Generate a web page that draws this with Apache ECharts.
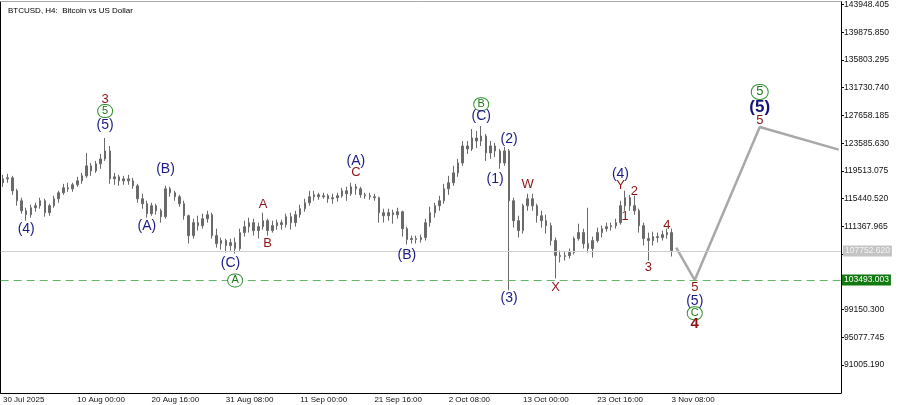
<!DOCTYPE html>
<html>
<head>
<meta charset="utf-8">
<script src="https://cdn.jsdelivr.net/npm/echarts@6/dist/echarts.min.js"></script>
<style>
  html, body { margin: 0; padding: 0; background: #fff; }
  #chart { width: 900px; height: 405px; }
</style>
</head>
<body>
<div id="chart"></div>
<script>
// BTCUSD H4, drawn with one candle per 16 h starting 30 Jul 2025 08:00
// each bar: [open, close, low, high]
const bars = [
  [117770,118350,117180,118940],[118350,118500,117770,119090],[118500,116600,116010,118790],[116600,115140,114410,116890],
  [115140,113670,113240,115580],[113670,113090,112210,114110],[113090,114110,112650,114550],[114110,114410,113530,114840],
  [114410,115140,113970,115580],[115140,113380,112800,115430],[113380,114410,112940,114700],[114410,115430,114110,115870],
  [115430,116310,114840,116600],[116310,117040,116010,117620],[117040,116890,116450,117770],[116890,117480,116450,117770],
  [117480,118060,117180,118650],[118060,118790,117620,119230],[118790,120260,118500,122160],[120260,119520,118790,120690],
  [119520,120550,119230,120990],[120550,121280,119820,122010],[121280,122450,120990,124350],[122450,118350,117620,123180],
  [118350,118650,117480,119230],[118650,118060,117330,118940],[118060,118350,117480,118790],[118350,118060,117480,118940],
  [118060,117330,116890,118500],[117330,115430,114840,117620],[115430,114700,113970,116160],[114700,113240,112650,115140],
  [113240,114410,112940,114840],[114410,113670,113090,114700],[113670,112800,111920,113970],[112800,116890,112500,117330],
  [116890,116310,115720,117180],[116310,115720,115140,116600],[115720,114700,114260,116010],[114700,112940,112360,115140],
  [112940,110020,108850,113090],[110020,111920,109580,112500],[111920,111480,110750,112940],[111480,112500,111040,113240],
  [112500,113090,111920,113670],[113090,110020,109580,113380],[110020,108850,108260,111040],[108850,109290,107970,109730],
  [109290,108560,107530,109580],[108560,108990,107820,109580],[108990,108120,107390,109730],[108120,110460,107820,111040],
  [110460,111330,109870,112210],[111330,111920,110460,112650],[111920,110750,110020,112500],[110750,111330,109580,111920],
  [111330,112210,110900,113380],[112210,110750,110020,112500],[110750,111480,110460,112210],[111480,111920,110900,112360],
  [111920,111630,110900,112360],[111630,112800,111190,113240],[112800,111920,110900,113380],[111920,113090,111330,113670],
  [113090,113970,112650,114550],[113970,114840,113530,115430],[114840,115720,114410,116600],[115720,116010,115140,116600],
  [116010,115720,115280,116310],[115720,115870,115430,116310],[115870,115430,114840,116160],[115430,115580,114700,116160],
  [115580,115870,114990,116310],[115870,116600,115580,117040],[116600,116160,115140,117180],[116160,117180,115870,117770],
  [117180,116890,116010,117620],[116890,116010,115580,117180],[116010,115870,115430,116310],[115870,115720,115280,116310],
  [115720,115580,115140,116160],[115580,113380,111920,115720],[113380,112940,111920,113970],[112940,113380,112210,113970],
  [113380,113090,111770,113820],[113090,113530,112500,114110],[113530,111040,109870,113670],[111040,109430,108700,111330],
  [109430,109580,108850,110020],[109580,109430,108850,110020],[109430,109730,108990,110160],[109730,111920,109290,112500],
  [111920,113380,111330,114260],[113380,114410,112650,114840],[114410,115140,113670,115870],[115140,116890,114700,117620],
  [116890,117770,116010,118790],[117770,119230,117330,120260],[119230,120690,118650,121280],[120690,123180,120260,123910],
  [123180,122740,122010,123910],[122740,124350,122450,125670],[124350,123910,122890,125370],[123910,124640,123180,126110],
  [124640,122160,120990,124940],[122160,123180,121280,123910],[123180,122450,121570,123620],[122450,120690,119820,122740],
  [120690,122450,120260,123030],[122450,115140,101970,122740],[115140,112210,111190,115580],[112210,110750,109730,112940],
  [110750,114410,110310,114700],[114410,115430,113670,116160],[115430,114410,113670,116160],[114410,112940,111920,114700],
  [112940,112210,111190,113670],[112210,111480,110310,113090],[111480,109290,108560,111920],[109290,107090,103730,109730],
  [107090,106950,106070,107820],[106950,107090,106360,107680],[107090,107530,106650,108120],[107530,109580,107240,109870],
  [109580,110460,109290,111770],[110460,108850,108120,111040],[108850,108120,107530,114110],[108120,109290,106800,109870],
  [109290,110460,108990,111190],[110460,111040,109730,111480],[111040,111330,110600,111920],[111330,111480,110750,111920],
  [111480,111920,111040,112500],[111920,114410,111630,115140],[114410,115580,113670,116600],[115580,114410,113670,116010],
  [114410,113670,113090,115870],[113670,111480,110460,113970],[111480,109580,108560,111920],[109580,109290,106360,110460],
  [109290,109870,108560,110600],[109870,109730,108990,110460],[109730,110160,109290,110750],[110160,110460,109580,111040],
  [110460,107820,106950,111040]
];

const slotCount = 181;   // candles + room for the forecast
const labelStep = 16;
const xTickLabels = ['30 Jul 2025', '10 Aug 00:00', '20 Aug 16:00', '31 Aug 08:00', '11 Sep 00:00',
  '21 Sep 16:00', '2 Oct 08:00', '13 Oct 00:00', '23 Oct 16:00', '3 Nov 08:00'];
const yTickValues = [91005.190, 95077.745, 99150.300, 107295.410, 111367.965, 115440.520,
  119513.075, 123585.630, 127658.185, 131730.740, 135803.295, 139875.850, 143948.405];

const currentPrice = 107752.62;
const supportPrice = 103493.003;

// forecast path: [slot, price]
const forecast = [[145, 108260], [149, 103493], [163, 125960], [180, 122640]];

// wave count labels: [text, slot, price, style]
const waveLabels = [
  ['(4)', 5, 111040, 'blue'],
  ['3', 22, 130060, 'red'], ['5', 22, 128300, 'green'], ['(5)', 22, 126250, 'blue'],
  ['(A)', 31, 111480, 'blue'], ['(B)', 35, 119820, 'blue'],
  ['(C)', 49, 105920, 'blue'], ['A', 50, 103440, 'green'],
  ['A', 56, 114550, 'red'], ['B', 57, 108850, 'red'],
  ['(A)', 76, 120990, 'blue'], ['C', 76, 119230, 'red'],
  ['(B)', 87, 107090, 'blue'],
  ['B', 103, 129320, 'green'], ['(C)', 103, 127570, 'blue'],
  ['(2)', 109, 124200, 'blue'], ['(1)', 106, 118350, 'blue'], ['(3)', 109, 100800, 'blue'],
  ['W', 113, 117480, 'red'], ['X', 119, 102410, 'red'],
  ['(4)', 133, 119090, 'blue'], ['Y', 133, 117330, 'red'],
  ['2', 136, 116450, 'red'], ['1', 134, 112800, 'red'],
  ['3', 139, 105340, 'red'], ['4', 143, 111480, 'red'],
  ['5', 149, 102410, 'red'], ['(5)', 149, 100370, 'blue'], ['C', 149, 98630, 'green'], ['4', 149, 97000, 'redBig'],
  ['5', 163, 131120, 'greenBig'], ['(5)', 163, 128880, 'blueBig'], ['5', 163, 126980, 'red']
];

const font = 'Liberation Sans, Arial, sans-serif';
const labelStyles = {
  blue: { color: '#1b1b84', fontSize: 14 },
  blueBig: { color: '#141478', fontSize: 17, fontWeight: 'bold' },
  red: { color: '#8e1414', fontSize: 13 },
  redBig: { color: '#8e1414', fontSize: 15, fontWeight: 'bold' },
  green: {
    color: '#1a7a1a', fontSize: 11, backgroundColor: '#fff', borderColor: '#2f912f', borderWidth: 1,
    borderRadius: 7, width: 12, height: 12, lineHeight: 13, align: 'center', padding: [0, 1]
  },
  greenBig: {
    color: '#1a7a1a', fontSize: 13, backgroundColor: '#fff', borderColor: '#2f912f', borderWidth: 1,
    borderRadius: 8, width: 14, height: 14, lineHeight: 15, align: 'center', padding: [0, 1]
  }
};

const slots = Array.from({length: slotCount}, (_, i) => String(i));

const chart = echarts.init(document.getElementById('chart'), null, {renderer: 'canvas'});

const option = {
  backgroundColor: '#fff',
  animation: false,
  textStyle: {fontFamily: font},
  title: {
    text: 'BTCUSD, H4:  Bitcoin vs US Dollar',
    left: 3,
    top: 2,
    textStyle: {fontSize: 8, fontWeight: 'normal', color: '#000', fontFamily: font}
  },
  grid: {left: 0, right: 59, top: 0, bottom: 12},
  xAxis: [
    {
      type: 'category',
      data: slots,
      boundaryGap: true,
      axisLine: {lineStyle: {color: '#000', width: 1}},
      axisTick: {
        alignWithLabel: true,
        length: 3,
        lineStyle: {color: '#000'},
        interval: (idx) => idx % labelStep === 0 && idx / labelStep < xTickLabels.length
      },
      axisLabel: {
        interval: (idx) => idx % labelStep === 0 && idx / labelStep < xTickLabels.length,
        formatter: (v, idx) => xTickLabels[idx / labelStep] || '',
        align: 'left',
        margin: 3,
        fontSize: 8,
        color: '#111',
        fontFamily: font
      },
      splitLine: {show: false}
    },
    {
      type: 'category',
      data: slots,
      position: 'top',
      axisLine: {lineStyle: {color: '#aaa'}},
      axisTick: {show: false},
      axisLabel: {show: false}
    }
  ],
  yAxis: [
    {
      type: 'value',
      position: 'right',
      min: 86911,
      max: 144387,
      axisLine: {show: true, lineStyle: {color: '#000', width: 1}},
      axisTick: {show: true, length: 3, lineStyle: {color: '#000'}, customValues: yTickValues},
      axisLabel: {
        customValues: yTickValues,
        formatter: (v) => v.toFixed(3),
        fontSize: 8.5,
        color: '#111',
        margin: 3,
        fontFamily: font
      },
      splitLine: {show: false}
    },
    {
      type: 'value',
      position: 'left',
      min: 86911,
      max: 144387,
      axisLine: {show: true, lineStyle: {color: '#000', width: 1}},
      axisTick: {show: false},
      axisLabel: {show: false},
      splitLine: {show: false}
    }
  ],
  series: [
    {
      name: 'BTCUSD',
      type: 'candlestick',
      data: bars,
      barWidth: 2,
      itemStyle: {
        color: '#6a6a6a',
        color0: '#6a6a6a',
        borderColor: '#6a6a6a',
        borderColor0: '#6a6a6a',
        borderWidth: 1
      },
      markLine: {
        symbol: 'none',
        silent: true,
        animation: false,
        data: [
          {
            yAxis: currentPrice,
            lineStyle: {color: '#cfcfcf', type: 'solid', width: 1},
            label: {
              show: true, position: 'end', distance: 2,
              formatter: currentPrice.toFixed(3),
              backgroundColor: '#c4c4c4', color: '#f4f4f4',
              fontSize: 8.5, padding: [1, 2], fontFamily: font
            }
          },
          {
            yAxis: supportPrice,
            lineStyle: {color: '#62b862', type: [8, 5], width: 1.2},
            label: {
              show: true, position: 'end', distance: 1,
              formatter: supportPrice.toFixed(3),
              backgroundColor: '#107a10', color: '#fff',
              fontSize: 8.5, padding: [1, 2], fontFamily: font
            }
          }
        ]
      }
    },
    {
      name: 'forecast',
      type: 'line',
      data: forecast,
      symbol: 'none',
      lineStyle: {color: '#a8a8a8', width: 2.5},
      z: 3
    },
    {
      name: 'waves',
      type: 'scatter',
      symbolSize: 0,
      clip: false,
      silent: true,
      z: 5,
      itemStyle: {opacity: 1},
      emphasis: {disabled: true},
      data: waveLabels.map(([text, slot, price, style]) => ({
        value: [slot, price],
        itemStyle: {opacity: 1},
        label: Object.assign({
          show: true,
          position: 'inside',
          formatter: text,
          fontFamily: font,
          opacity: 1,
          textBorderWidth: 0,
          textShadowBlur: 0
        }, labelStyles[style])
      }))
    }
  ]
};

chart.setOption(option);
</script>
</body>
</html>
